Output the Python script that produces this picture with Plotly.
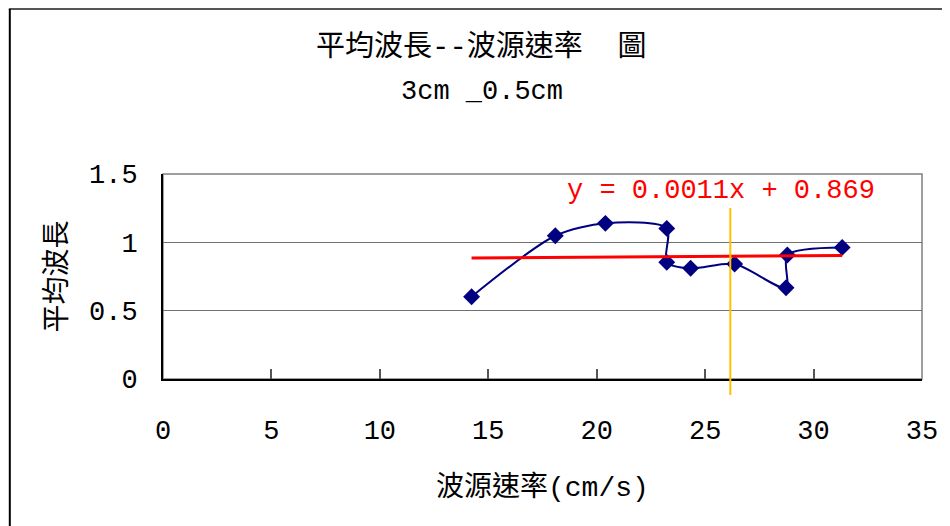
import plotly.graph_objects as go

# ---- data ----
speed = [14.23, 18.09, 20.40, 23.23, 23.23, 24.33, 26.36, 28.73, 28.79, 31.32]
wavelength = [0.602, 1.048, 1.139, 1.102, 0.854, 0.810, 0.841, 0.668, 0.907, 0.963]
trend_slope = 0.0011
trend_intercept = 0.869
marker_line_x = 26.16
x_ticks = [0, 5, 10, 15, 20, 25, 30, 35]
y_ticks = [0, 0.5, 1, 1.5]
y_tick_text = ["0", "0.5", "1", "1.5"]

title1 = "平均波長--波源速率\u00a0\u00a0圖"
title2 = "3cm _0.5cm"
x_title = "波源速率(cm/s)"
y_title = "平均波長"
eq_text = "y = 0.0011x + 0.869"

FONT = "Liberation Mono, Noto Sans CJK TC, sans-serif"

# page offset (body margin) compensation
OFF = 8
# target pixel positions in the page (plot area: x 163..926, y 174..379)
L, R, T, B = 163 - OFF, 926 - OFF, 174 - OFF, 379 - OFF
W, H = 950 - OFF, 526 - OFF
def px(x):
    return (x - OFF - L) / (R - L)
def py(y):
    return (B - (y - OFF)) / (B - T)

tx = [min(speed), max(speed)]
ty = [trend_slope * v + trend_intercept for v in tx]

fig = go.Figure()
fig.add_trace(go.Scatter(
    x=speed, y=wavelength, mode="lines+markers",
    line=dict(color="#000080", width=2, shape="spline", smoothing=0.8),
    marker=dict(symbol="diamond", size=13, color="#000080"),
    showlegend=False, hoverinfo="x+y"))
fig.add_trace(go.Scatter(
    x=tx, y=ty, mode="lines",
    line=dict(color="#FF0000", width=3),
    showlegend=False, hoverinfo="skip"))

shapes = [
    dict(type="rect", xref="paper", yref="paper", x0=0, x1=1, y0=0, y1=1,
         line=dict(color="#808080", width=1.5), layer="below"),
    dict(type="line", xref="x", yref="paper", x0=marker_line_x, x1=marker_line_x,
         y0=py(395), y1=py(208), line=dict(color="#FFC000", width=2)),
    # outer chart border (top and left), as close to the page edge as possible
    dict(type="line", xref="paper", yref="paper", x0=px(8), x1=px(960), y0=py(9), y1=py(9),
         line=dict(color="#555555", width=2)),
    dict(type="line", xref="paper", yref="paper", x0=px(9), x1=px(9), y0=py(9), y1=py(540),
         line=dict(color="#000000", width=2)),
]

annotations = [
    dict(text=title1, xref="paper", yref="paper", x=px(483), y=py(48),
         showarrow=False, font=dict(size=29, color="black", family=FONT),
         xanchor="center", yanchor="middle"),
    dict(text=title2, xref="paper", yref="paper", x=px(484), y=py(92),
         showarrow=False, font=dict(size=27, color="black", family=FONT),
         xanchor="center", yanchor="middle"),
    dict(text=x_title, xref="paper", yref="paper", x=px(544), y=py(487),
         showarrow=False, font=dict(size=28, color="black", family=FONT),
         xanchor="center", yanchor="middle"),
    dict(text=y_title, xref="paper", yref="paper", x=px(56), y=py(277),
         showarrow=False, textangle=-90, font=dict(size=28, color="black", family=FONT),
         xanchor="center", yanchor="middle"),
    dict(text=eq_text, xref="paper", yref="paper", x=px(724), y=py(191),
         showarrow=False, font=dict(size=27, color="#FF0000", family=FONT),
         xanchor="center", yanchor="middle"),
]

fig.update_layout(
    width=W, height=H,
    margin=dict(l=L, r=W - R, t=T, b=H - B, pad=0),
    paper_bgcolor="white", plot_bgcolor="white",
    font=dict(family=FONT, color="black", size=27),
    shapes=shapes, annotations=annotations,
)
fig.update_xaxes(
    range=[0, 35], tickvals=x_ticks, showgrid=False, zeroline=False,
    showline=True, linecolor="black", linewidth=2,
    ticks="inside", ticklen=10, tickcolor="#555555", tickwidth=1.5,
    tickfont=dict(size=27, family=FONT), ticklabelstandoff=26,
)
fig.update_yaxes(
    range=[0, 1.5], tickvals=y_ticks, ticktext=y_tick_text,
    showgrid=True, gridcolor="#707070", gridwidth=1, zeroline=False,
    showline=True, linecolor="black", linewidth=2,
    ticks="", tickfont=dict(size=27, family=FONT), ticklabelstandoff=18,
)

fig.write_html("out.html")
